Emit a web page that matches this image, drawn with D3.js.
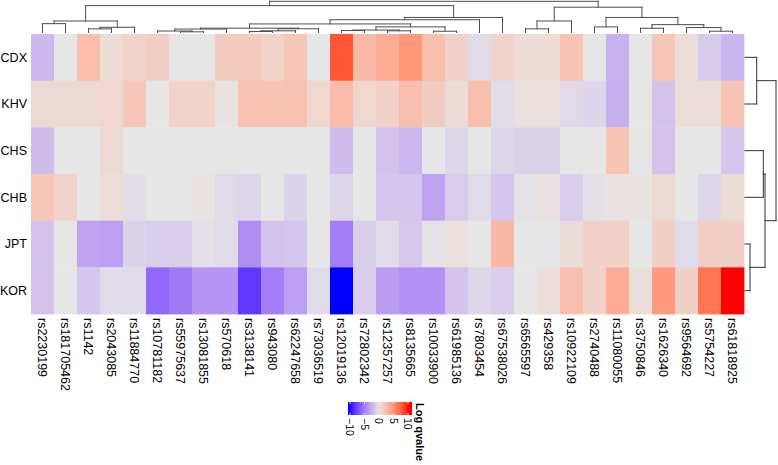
<!DOCTYPE html>
<html><head><meta charset="utf-8">
<script src="https://cdn.jsdelivr.net/npm/d3@7"></script>
<style>body{margin:0;background:#fff}svg{display:block;font-family:"Liberation Sans",Arial,Helvetica,sans-serif}</style>
</head><body><svg id="c" width="778" height="465"></svg>
<script>
const rows = ["CDX","KHV","CHS","CHB","JPT","KOR"];
const cols = ["rs2230199","rs181705462","rs1142","rs2043085","rs11884770","rs10781182","rs55975637","rs13081855","rs570618","rs3138141","rs943080","rs62247658","rs73036519","rs12019136","rs72802342","rs12357257","rs8135665","rs10033900","rs61985136","rs7803454","rs67538026","rs6565597","rs429358","rs10922109","rs2740488","rs11080055","rs3750846","rs1626340","rs9564692","rs5754227","rs61818925"];
const CDX = [-2.1,0,2.5,0.7,1.2,1.5,0,0,1.7,1.7,1.2,2,0,8,2.7,3.5,4.8,2.5,1.3,-0.5,1.2,0.6,0.7,2.2,0,-2.5,0,2,0.5,-1.3,-2.3];
const KHV = [0.8,0.8,0.8,1,2,0,1.2,1.2,0.2,2.3,2.2,2.3,1,2.6,1,1.3,2.4,1.6,0.6,2.4,-0.4,0.4,0.4,-0.6,-0.8,-2.6,0,-1.7,0.5,0.5,2.2];
const CHS = [-1.9,0,0,0.8,0,0,0,0,0,0,0,0,0,-1.9,0,-1.7,-2.2,0,-0.7,0,-0.7,-0.9,-0.9,0,0,2.2,0,-1.7,0,0,-1.5];
const CHB = [2,1.2,0,0.5,-0.4,0,0,0.2,-0.6,-0.7,0,-0.9,0,-0.7,0,-1.5,-1.5,-3.2,-1.2,-0.5,-1.5,-0.2,0.3,-1.2,-0.3,0.2,0.2,0.8,0,-0.7,0.7];
const JPT = [-1.7,0,-3.2,-3.4,-0.9,-1.1,-1.1,-0.3,-0.5,-4.2,-1.7,-1.5,0,-5,-1.1,-0.5,-1.4,-0.2,0.4,0,2.8,0,-0.1,0.6,1.3,1.3,0,1.4,-0.5,1.5,1.4];
const KOR = [-1.7,0,-1.5,-0.5,-0.5,-6,-5.2,-3.8,-3.8,-8.3,-5,-3.4,-0.5,-10.5,-1.2,-3.5,-4,-4,-1.7,-0.7,-1.2,0,0.5,2.4,1.3,3.5,0.5,4.6,1.4,6.5,11];
const values = [CDX, KHV, CHS, CHB, JPT, KOR];
const legendTicks = [-10,-5,0,5,10];
const legendTitle = "Log qvalue";
// hclust-style merges: [left, right, height]; negative = leaf (1-based), positive = earlier merge
const colMerges = [
 [-1,-2,9],[-3,-4,3.7],[2,-5,5.3],[1,3,11.7],
 [-7,-8,0.7],[-6,5,1.5],[6,-9,3.5],[-10,-11,1],[8,-12,1.7],[9,-13,3.8],[7,10,4.4],
 [-14,-15,2],[-16,-17,1.7],[12,13,2.5],[-18,-19,1.3],[14,15,5.7],[11,16,8.7],
 [17,-20,13],[18,-21,15.3],[4,19,27.3],
 [-22,-23,3.7],[21,-24,11.7],[-25,-26,5.7],[-27,-28,4.3],[-30,-31,1.3],[-29,25,5],
 [24,26,8],[23,27,15.3],[22,28,25.7],[20,29,31.7]
];
const rowMerges = [[-1,-2,11.7],[-3,-4,18.3],[-5,-6,5],[2,3,20],[1,4,31]];

const svg = d3.select("#c");
const L = 31, R = 744, T = 34, B = 314;
const x = d3.scaleBand().domain(cols).range([L,R]);
const y = d3.scaleBand().domain(rows).range([T,B]);
const color = d3.scaleLinear().domain([-10,0,10]).range(["#0000ff","#e6e6e6","#ff0000"]).interpolate(d3.interpolateLab).clamp(true);

const cells = [];
rows.forEach((r,i)=>cols.forEach((c,j)=>cells.push({r,c,v:values[i][j]})));
svg.append("g").selectAll("rect").data(cells).join("rect")
  .attr("x",d=>x(d.c)).attr("y",d=>y(d.r))
  .attr("width",x.bandwidth()+0.4).attr("height",y.bandwidth()+0.4)
  .attr("fill",d=>color(d.v));

// row labels
svg.append("g").selectAll("text").data(rows).join("text")
  .attr("x",27).attr("y",d=>y(d)+y.bandwidth()/2).attr("dy","0.35em")
  .attr("text-anchor","end").attr("font-size",12.5).attr("fill","#000").text(d=>d);

// column labels
svg.append("g").selectAll("text").data(cols).join("text")
  .attr("transform",d=>`translate(${x(d)+x.bandwidth()/2-0.5},318) rotate(90)`)
  .attr("dy","0.35em").attr("font-size",12.5).attr("fill","#000").text(d=>d);

// dendrogram helper
function dendro(merges, leafPos, hToPx, vertical){
  const pos = [], ht = [];
  const getP = k => k<0 ? leafPos(-k-1) : pos[k-1];
  const getH = k => k<0 ? 0 : ht[k-1];
  const segs = [];
  merges.forEach((m,i)=>{
    const [a,b,h] = m;
    const pa = getP(a), pb = getP(b), ha = getH(a), hb = getH(b);
    pos[i] = (pa+pb)/2; ht[i] = h;
    segs.push([pa,hToPx(ha),pa,hToPx(h)]);
    segs.push([pb,hToPx(hb),pb,hToPx(h)]);
    segs.push([pa,hToPx(h),pb,hToPx(h)]);
  });
  return segs.map(s => vertical ? s : [s[1],s[0],s[3],s[2]]);
}
const hTop = d3.scaleLinear().domain([0,31.7]).range([32.5,1.3]);
const topSegs = dendro(colMerges, i=>x(cols[i])+x.bandwidth()/2, hTop, true);
svg.append("g").selectAll("line").data(topSegs).join("line")
  .attr("x1",d=>d[0]).attr("y1",d=>d[1]).attr("x2",d=>d[2]).attr("y2",d=>d[3])
  .attr("stroke","#4d4d4d").attr("stroke-width",1).attr("stroke-linecap","square");
const hRight = d3.scaleLinear().domain([0,31]).range([745,776]);
const rightSegs = dendro(rowMerges, i=>y(rows[i])+y.bandwidth()/2, hRight, false);
svg.append("g").selectAll("line").data(rightSegs).join("line")
  .attr("x1",d=>d[0]).attr("y1",d=>d[1]).attr("x2",d=>d[2]).attr("y2",d=>d[3])
  .attr("stroke","#333").attr("stroke-width",1).attr("stroke-linecap","square");

// legend
const lx = d3.scaleLinear().domain([-10,10]).range([350,408]);
const barDom = [-10.7,11.4], barY = 402, barH = 13;
const defs = svg.append("defs");
const grad = defs.append("linearGradient").attr("id","lg");
d3.range(0,1.0001,0.05).forEach(t=>{
  const v = barDom[0]+t*(barDom[1]-barDom[0]);
  grad.append("stop").attr("offset",t).attr("stop-color",color(v));
});
svg.append("rect").attr("x",lx(barDom[0])).attr("y",barY).attr("width",lx(barDom[1])-lx(barDom[0])).attr("height",barH).attr("fill","url(#lg)");
const lg = svg.append("g");
legendTicks.forEach(t=>{
  lg.append("line").attr("x1",lx(t)).attr("x2",lx(t)).attr("y1",barY).attr("y2",barY+2).attr("stroke","#fff").attr("stroke-width",0.8);
  lg.append("line").attr("x1",lx(t)).attr("x2",lx(t)).attr("y1",barY+barH-2).attr("y2",barY+barH).attr("stroke","#fff").attr("stroke-width",0.8);
  lg.append("text").attr("transform",`translate(${lx(t)},${barY+barH+3}) rotate(90)`)
    .attr("dy","0.35em").attr("font-size",10.5).attr("fill","#000").text(t<0?"\u2212"+Math.abs(t):t);
});
svg.append("text").attr("transform",`translate(415.5,${barY+1}) rotate(90)`)
  .attr("font-size",11).attr("font-weight","bold").attr("fill","#000").text(legendTitle);
</script></body></html>
